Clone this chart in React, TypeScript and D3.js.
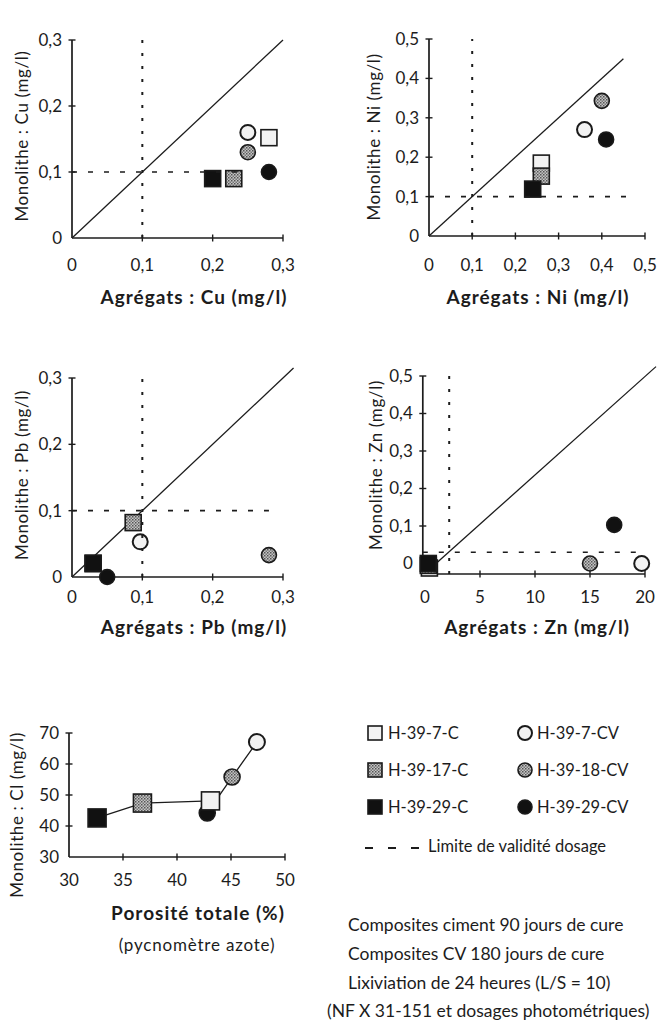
import React from "react";
import * as d3 from "d3";

// sample order: 7-C, 17-C, 29-C, 7-CV, 18-CV, 29-CV
const samples = ["H-39-7-C", "H-39-17-C", "H-39-29-C", "H-39-7-CV", "H-39-18-CV", "H-39-29-CV"];
const sampleShape = ["square", "square", "square", "circle", "circle", "circle"];
const sampleFill = ["open", "grey", "black", "open", "grey", "black"];

const cuAgg = [0.28, 0.23, 0.2, 0.25, 0.25, 0.28];
const cuMono = [0.152, 0.09, 0.09, 0.16, 0.13, 0.1];

const niAgg = [0.26, 0.26, 0.24, 0.36, 0.4, 0.41];
const niMono = [0.185, 0.152, 0.119, 0.27, 0.343, 0.245];

const pbAgg = [0.03, 0.087, 0.03, 0.097, 0.28, 0.05];
const pbMono = [0.02, 0.082, 0.021, 0.053, 0.033, 0.0];

const znAgg = [0.4, 0.3, 0.3, 19.7, 15, 17.2];
const znMono = [-0.012, -0.005, 0.0, 0.0, 0.0, 0.103];

const porosity = [43.1, 36.8, 32.6, 47.4, 45.1, 42.8];
const clMono = [48.1, 47.4, 42.6, 67.1, 55.8, 44.2];

const metalTicks3 = [0, 0.1, 0.2, 0.3];
const metalTicks5 = [0, 0.1, 0.2, 0.3, 0.4, 0.5];
const znXTicks = [0, 5, 10, 15, 20];
const clXTicks = [30, 35, 40, 45, 50];
const clYTicks = [30, 40, 50, 60, 70];

const footerLines = [
  "Composites ciment 90 jours de cure",
  "Composites CV 180 jours de cure",
  "Lixiviation de 24 heures (L/S = 10)",
];
const footerLast = "(NF X 31-151 et dosages photométriques)";

// draw order (29-CV goes under the squares, as in the Cl plot)
const drawOrder = [5, 0, 1, 2, 3, 4];

const FONT = "Lato, 'Open Sans', sans-serif";
const INK = "#1c1c1c";

const frLocale = d3.formatLocale({decimal: ",", thousands: " ", grouping: [3], currency: ["", ""]});
const fmt1 = frLocale.format(".1f");
const decFmt = (v: number) => (v === 0 ? "0" : fmt1(v));
const intFmt = (v: number) => String(v);

function Marker({cx, cy, i, sq, ci}: {cx: number; cy: number; i: number; sq: number; ci: number}) {
  const fill = sampleFill[i] === "open" ? "#f2f2f2" : sampleFill[i] === "grey" ? "url(#dither)" : "#111";
  if (sampleShape[i] === "square") {
    return (
      <rect x={cx - sq / 2} y={cy - sq / 2} width={sq} height={sq}
            fill={fill} stroke="#1a1a1a" strokeWidth={1.6} />
    );
  }
  const r = ci / 2;
  return <circle cx={cx} cy={cy} r={r} fill={fill} stroke="#1a1a1a" strokeWidth={sampleFill[i] === "open" ? 2 : 1.6} />;
}

interface PanelProps {
  xDomain: [number, number];
  xRange: [number, number];
  yDomain: [number, number];
  yRange: [number, number];
  xTicks: number[];
  yTicks: number[];
  xFmt: (v: number) => string;
  yFmt: (v: number) => string;
  xAxisAt?: number;
  yAxisAt?: number;
  tickLabelDy: number;
  title: string;
  titleX: number;
  titleY: number;
  yTitle: string;
  yTitleX: number;
  yTitleY: number;
  xs: number[];
  ys: number[];
  sq: number;
  ci: number;
  vGuide?: [number, number, number];
  hGuide?: [number, number, number];
  diag?: [[number, number], [number, number]];
  lines?: number[][];
}

function Panel(p: PanelProps) {
  const x = d3.scaleLinear().domain(p.xDomain).range(p.xRange);
  const y = d3.scaleLinear().domain(p.yDomain).range(p.yRange);
  const ax = p.yAxisAt ?? p.xDomain[0];
  const ay = p.xAxisAt ?? p.yDomain[0];
  const x0 = x(ax);
  const y0 = y(ay);
  const line = d3.line<number>().x(i => x(p.xs[i])).y(i => y(p.ys[i]));
  return (
    <g>
      {/* axes */}
      <line x1={x0} x2={x(p.xDomain[1])} y1={y0} y2={y0} stroke={INK} strokeWidth={1.7} />
      <line x1={x0} x2={x0} y1={y0} y2={y(p.yDomain[1])} stroke={INK} strokeWidth={1.7} />
      {p.xTicks.filter(t => t !== p.xDomain[0]).map(t => (
        <line key={"xt" + t} x1={x(t)} x2={x(t)} y1={y0 - 3.5} y2={y0 + 3.5} stroke={INK} strokeWidth={1.4} />
      ))}
      {p.yTicks.filter(t => t !== p.yDomain[0]).map(t => (
        <line key={"yt" + t} x1={x0 - 3.5} x2={x0 + 3.5} y1={y(t)} y2={y(t)} stroke={INK} strokeWidth={1.4} />
      ))}
      {p.xTicks.map(t => (
        <text key={"xl" + t} x={x(t)} y={y0 + p.tickLabelDy} textAnchor="middle" dy="0.35em"
              fontSize={17} fill={INK} fontFamily={FONT}>{p.xFmt(t)}</text>
      ))}
      {p.yTicks.map(t => (
        <text key={"yl" + t} x={x0 - 10} y={y(t)} textAnchor="end" dy="0.35em"
              fontSize={17} fill={INK} fontFamily={FONT}>{p.yFmt(t)}</text>
      ))}
      <text x={p.titleX} y={p.titleY} textAnchor="middle" dy="0.35em" fontSize={19} fontWeight="bold"
            letterSpacing={1} fill={INK} fontFamily={FONT}>{p.title}</text>
      <text transform={`translate(${p.yTitleX},${p.yTitleY}) rotate(-90)`} textAnchor="middle" dy="0.35em"
            fontSize={17} letterSpacing={0.6} fill={INK} fontFamily={FONT}>{p.yTitle}</text>
      {p.diag && (
        <line x1={x(p.diag[0][0])} y1={y(p.diag[0][1])} x2={x(p.diag[1][0])} y2={y(p.diag[1][1])}
              stroke={INK} strokeWidth={1.3} />
      )}
      {p.lines && p.lines.map((l, k) => (
        <path key={"ln" + k} d={line(l) || ""} fill="none" stroke={INK} strokeWidth={1.3} />
      ))}
      {drawOrder.map(i => (
        <Marker key={i} i={i} cx={x(p.xs[i])} cy={y(p.ys[i])} sq={p.sq} ci={p.ci} />
      ))}
      {p.vGuide && (
        <line x1={x(p.vGuide[0])} x2={x(p.vGuide[0])} y1={y(p.vGuide[1])} y2={y(p.vGuide[2])}
              stroke={INK} strokeWidth={2} strokeDasharray="3,10" />
      )}
      {p.hGuide && (
        <line x1={x(p.hGuide[1])} x2={x(p.hGuide[2])} y1={y(p.hGuide[0])} y2={y(p.hGuide[0])}
              stroke={INK} strokeWidth={1.6} strokeDasharray="5,11" />
      )}
    </g>
  );
}

function Legend() {
  const rows = [733, 770, 807];
  const colMarker = [375, 525];
  const colText = [388, 537];
  return (
    <g fontFamily={FONT} fill={INK} fontSize={16.5}>
      {samples.map((s, i) => {
        const col = i < 3 ? 0 : 1;
        const row = i % 3;
        return (
          <g key={s}>
            <Marker i={i} cx={colMarker[col]} cy={rows[row]} sq={14} ci={14} />
            <text x={colText[col]} y={rows[row]} dy="0.35em">{s}</text>
          </g>
        );
      })}
      <line x1={365} x2={421} y1={848} y2={848} stroke={INK} strokeWidth={2} strokeDasharray="8,15" />
      <text x={428} y={846} dy="0.35em">Limite de validité dosage</text>
      {footerLines.map((t, k) => (
        <text key={t} x={348} y={925 + k * 29} dy="0.35em" fontSize={17.5}>{t}</text>
      ))}
      <text x={327} y={1011} dy="0.35em" fontSize={17.5}>{footerLast}</text>
    </g>
  );
}

export default function App() {
  return (
    <svg width={662} height={1030} style={{position: "absolute", left: 0, top: 0, background: "#fff"}}>
      <defs>
        <pattern id="dither" patternUnits="userSpaceOnUse" width={3} height={3}>
          <rect width={3} height={3} fill="#c4c4c4" />
          <rect width={1.5} height={1.5} fill="#555" />
          <rect x={1.5} y={1.5} width={1.5} height={1.5} fill="#777" />
        </pattern>
      </defs>
      <Panel xDomain={[0, 0.3]} xRange={[72, 283]} yDomain={[0, 0.3]} yRange={[238, 40]}
             xTicks={metalTicks3} yTicks={metalTicks3} xFmt={decFmt} yFmt={decFmt} tickLabelDy={27}
             title="Agrégats : Cu (mg/l)" titleX={194} titleY={297}
             yTitle="Monolithe : Cu (mg/l)" yTitleX={22} yTitleY={136}
             xs={cuAgg} ys={cuMono} sq={16} ci={15}
             vGuide={[0.1, 0, 0.3]} hGuide={[0.1, 0, 0.24]} diag={[[0, 0], [0.3, 0.3]]} />
      <Panel xDomain={[0, 0.5]} xRange={[429, 645]} yDomain={[0, 0.5]} yRange={[236, 39]}
             xTicks={metalTicks5} yTicks={metalTicks5} xFmt={decFmt} yFmt={decFmt} tickLabelDy={29}
             title="Agrégats : Ni (mg/l)" titleX={538} titleY={297}
             yTitle="Monolithe : Ni (mg/l)" yTitleX={374} yTitleY={137}
             xs={niAgg} ys={niMono} sq={16} ci={15}
             vGuide={[0.1, 0, 0.5]} hGuide={[0.1, 0, 0.46]} diag={[[0, 0], [0.45, 0.45]]} />
      <Panel xDomain={[0, 0.3]} xRange={[72, 283]} yDomain={[0, 0.3]} yRange={[577, 378]}
             xTicks={metalTicks3} yTicks={metalTicks3} xFmt={decFmt} yFmt={decFmt} tickLabelDy={20}
             title="Agrégats : Pb (mg/l)" titleX={194} titleY={627}
             yTitle="Monolithe : Pb (mg/l)" yTitleX={22} yTitleY={475}
             xs={pbAgg} ys={pbMono} sq={16} ci={15}
             vGuide={[0.1, 0, 0.305]} hGuide={[0.1, 0, 0.28]} diag={[[0, 0], [0.315, 0.315]]} />
      <Panel xDomain={[0, 20]} xRange={[425, 645]} yDomain={[0, 0.5]} yRange={[563.5, 376]}
             xAxisAt={-0.028} yAxisAt={-0.2}
             xTicks={znXTicks} yTicks={metalTicks5} xFmt={intFmt} yFmt={decFmt} tickLabelDy={23}
             title="Agrégats : Zn (mg/l)" titleX={537} titleY={627}
             yTitle="Monolithe : Zn (mg/l)" yTitleX={376} yTitleY={465}
             xs={znAgg} ys={znMono} sq={16} ci={15}
             vGuide={[2.2, -0.028, 0.5]} hGuide={[0.03, -0.2, 19.8]} diag={[[1, 0], [21, 0.525]]} />
      <Panel xDomain={[30, 50]} xRange={[69, 285]} yDomain={[30, 70]} yRange={[857, 733]}
             xTicks={clXTicks} yTicks={clYTicks} xFmt={intFmt} yFmt={intFmt} tickLabelDy={23}
             title="Porosité totale (%)" titleX={198} titleY={913}
             yTitle="Monolithe : Cl (mg/l)" yTitleX={17} yTitleY={815}
             xs={porosity} ys={clMono} sq={18} ci={16}
             lines={[[2, 1, 0], [5, 4, 3]]} />
      <text x={197} y={945} textAnchor="middle" dy="0.35em" fontSize={17} letterSpacing={0.8}
            fill={INK} fontFamily={FONT}>
        (pycnomètre azote)
      </text>
      <Legend />
    </svg>
  );
}
